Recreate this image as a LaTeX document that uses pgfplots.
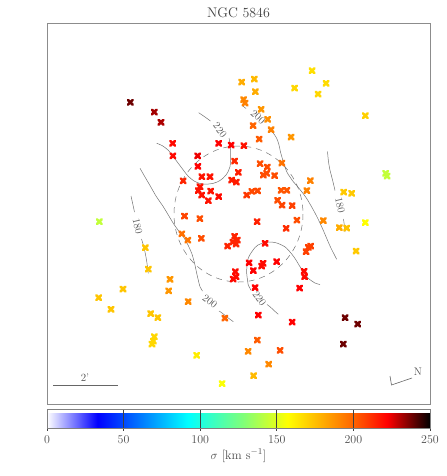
\documentclass[border=0pt]{standalone}
\usepackage{pgfplots}
\usepackage{pgfplotstable}
\pgfplotsset{compat=1.18}
\pgfplotsset{colormap={sig}{rgb255(0)=(255,255,255) rgb255(33)=(0,0,255) rgb255(92)=(0,255,255) rgb255(128)=(128,255,120) rgb255(157)=(255,255,0) rgb255(200)=(255,100,0) rgb255(222)=(255,0,0) rgb255(250)=(0,0,0)}}
\pgfplotstableread{
x y s
241.7 82 180
254.3 79 176
255.3 91.7 180
312 70.7 166
294.5 88 168
326 83.3 167
318 94 168
243.5 99.5 190
245 103 192
261.2 109.3 186
267.7 119.3 188
253 125.5 200
271 129.7 192
259.2 139 202
291 137 186
365.3 115.7 170
130.3 102.3 238
154.3 112 232
161 122.3 231
172.7 143.3 220
172.9 155.8 220
197.7 155.8 224
197.9 166.4 222
218.7 143.3 222
231.2 145 222
243.8 145.7 218
234.5 161 213
238.3 172.4 216
231.7 180 216
236.3 182 216
183.2 180.8 214
201.8 176.7 218
210 176.7 218
200 186.7 218
198.3 190.5 218
201.7 195 218
210.7 191 218
208.3 200.7 218
218.7 196.5 220
260 163.6 205
267.3 167 205
263.3 175 205
266.7 173.3 205
274.5 175.5 205
281.8 163 196
246.7 195 210
251.8 191.4 206
257.5 190.8 206
281.2 190.3 203
286.8 190.3 203
306.8 190.5 192
310.3 180.7 192
277.5 200.3 205
282 205.2 207
292.2 205.5 208
257.1 221.7 215
296.9 220.2 205
286.2 228.3 212
323.3 220.5 190
343.7 192 172
351.7 193.3 172
385.7 173.3 143
387 176 143
365.3 222.5 157
339.3 227.5 180
346.7 228 174
356 251 172
99.3 221.7 143
184.5 216 207
199.8 218.6 205
181.8 233.8 197
187.8 240.2 195
201.3 238.3 205
234.5 236.3 214
237.3 240 214
232.8 242 214
227.5 246 214
236 244 214
265 243.3 220
308.3 247.3 208
306 251.7 208
310.7 246 208
276.7 261.7 222
263 263.3 220
261.5 266 220
249 262.8 222
253.3 270.5 222
235.3 271.7 220
236 276.7 220
233.2 279 220
304 271.3 220
304.5 276.7 220
255 287.5 222
299.5 288 222
258.3 315 222
292.2 322 222
224.9 318.1 200
257.3 340 202
248.2 351.3 190
280 350.4 205
268.7 364.2 190
253.5 375.7 176
222 383.5 156
196.7 355.3 162
154.3 336.7 168
153.3 341 168
152 344 168
150.7 313.5 173
157.8 317.5 173
188.2 301.5 190
170 279.3 186
168.7 290.8 186
148.3 269.2 173
145.3 247.7 173
123 289 173
98.7 297.7 173
111 309.3 173
345 317.7 238
357.7 324 238
343.3 344 238
}\pts
\begin{document}
\begin{tikzpicture}
\useasboundingbox (0,0) rectangle (447bp,-476bp);
\begin{axis}[
  name=main,
  at={(47bp,-404bp)}, anchor=south west,
  scale only axis, width=383bp, height=381bp,
  xmin=47, xmax=430, ymin=23, ymax=404, y dir=reverse,
  xtick=\empty, ytick=\empty,
  axis line style={black!45},
  colormap name=sig,
  point meta min=0, point meta max=250,
  colorbar horizontal,
  colorbar shift/.style={},
  colorbar style={
    at={(parent axis.south west)}, anchor=north west,
    yshift=-5bp,
    scale only axis,
    width=383bp, height=19bp,
    axis on top,
    xtick={0,50,100,150,200,250},
    xtick pos=bottom,
    major tick length=21.5bp, tick align=inside,
    xtick style={black!75, line width=0.8bp, yshift=-2.5bp},
    axis line style={black!50},
    xticklabel style={font=\fontsize{12.5}{14}\selectfont, text=black!70, yshift=-4bp},
    xlabel={$\sigma$ [km s$^{-1}$]},
    xlabel style={font=\fontsize{12.5}{14}\selectfont, text=black!70, yshift=1bp},
  },
]
\addplot[scatter, only marks, mark=x, mark size=3.3bp, line width=2.6bp, line cap=round,
  scatter src=explicit,
  scatter/use mapped color={draw=mapped color, fill=mapped color}]
  table[x=x, y=y, meta=s] {\pts};
% contours
\addplot[black!55, line width=0.5bp, smooth, no marks] coordinates {(198.7,112.7) (205,117) (210.5,121)};
\addplot[black!55, line width=0.5bp, smooth, no marks] coordinates {(229,138) (229.9,143) (230.7,153.3) (230,166.7) (226,175) (220,180.5) (213.3,183.3) (203.3,184.2) (195,181.5) (188,176) (183.3,170) (178,163) (173.3,156.7) (168,150) (162,145.5) (156.7,143.3)};
\addplot[black!55, line width=0.5bp, smooth, no marks] coordinates {(131,196) (133,205) (134.5,212)};
\addplot[black!55, line width=0.5bp, smooth, no marks] coordinates {(141.5,239) (143.3,245) (145,252) (146.5,260) (147.5,267) (148.3,273.3)};
\addplot[black!55, line width=0.5bp, smooth, no marks] coordinates {(140,168.3) (145,177) (150,185.5) (156,196) (163.3,206.7) (168,214.5) (173.3,223.3) (178,230) (183.3,236.7) (188,245) (191.7,253.3) (194.5,263) (196.7,273.3) (198.5,281) (200,286.7) (202.5,291)};
\addplot[black!55, line width=0.5bp, smooth, no marks] coordinates {(219,311) (221.7,312.7) (227,317) (233.3,321.7)};
\addplot[black!55, line width=0.5bp, smooth, no marks] coordinates {(241.7,105) (246,108.5)};
\addplot[black!55, line width=0.5bp, smooth, no marks] coordinates {(269,127.5) (272.5,132) (276.7,138.3) (279,145) (280.5,152) (283.3,161.7) (286.7,171.7) (290,177) (293.3,181.7) (297.5,186.5) (301.7,191.7) (306,197.5) (310,204) (315,213) (319.5,222) (324,232) (330,246) (336.7,259.3)};
\addplot[black!55, line width=0.5bp, smooth, no marks] coordinates {(327.5,151.5) (328.3,160) (329.5,168) (331.5,176) (333.5,184) (335,190.5)};
\addplot[black!55, line width=0.5bp, smooth, no marks] coordinates {(343.5,219) (344.3,225) (345,232)};
\addplot[black!55, line width=0.5bp, smooth, no marks] coordinates {(320,284.5) (315,283) (308.3,278.3) (304,272.5) (300,266.7) (296,260) (291.7,254) (285,246.9) (275,242.5) (265,242.5) (258,245) (255,247.5) (251,253) (248.3,258) (247,265) (246.7,273.3) (247.5,280) (248.3,285) (251.2,290.5)};
\addplot[black!55, line width=0.5bp, smooth, no marks] coordinates {(267,304.5) (270,306.7) (274,310.5) (278.3,314.3)};
% scale bar and compass
\addplot[black!60, line width=0.6bp, no marks] coordinates {(53,385) (118,385)};
\addplot[black!60, line width=0.6bp, no marks] coordinates {(390,376) (391.5,385) (412,378)};
\draw[black!55, line width=0.5bp, dash pattern=on 6bp off 5bp] (axis cs:238.5,214) ellipse [x radius=64.5, y radius=68];
\end{axis}
\begin{scope}[every node/.style={text=black!65, font=\fontsize{10.5}{11}\selectfont, inner sep=0pt}]
\node[rotate=-52] at (220bp,-130bp) {220};
\node[rotate=-42] at (258bp,-117bp) {200};
\node[rotate=-78] at (340bp,-205bp) {180};
\node[rotate=-78] at (137.5bp,-226bp) {180};
\node[rotate=-38] at (210bp,-301.7bp) {200};
\node[rotate=-55] at (259.5bp,-298.5bp) {220};
\end{scope}
\node[text=black!70, font=\fontsize{11}{12}\selectfont] at (85bp,-378bp) {2'};
\node[text=black!70, font=\fontsize{11}{12}\selectfont] at (418bp,-372bp) {N};
\node[text=black!75, font=\fontsize{14}{16}\selectfont, anchor=base] at (238.5bp,-17bp) {NGC 5846};
\end{tikzpicture}
\end{document}
